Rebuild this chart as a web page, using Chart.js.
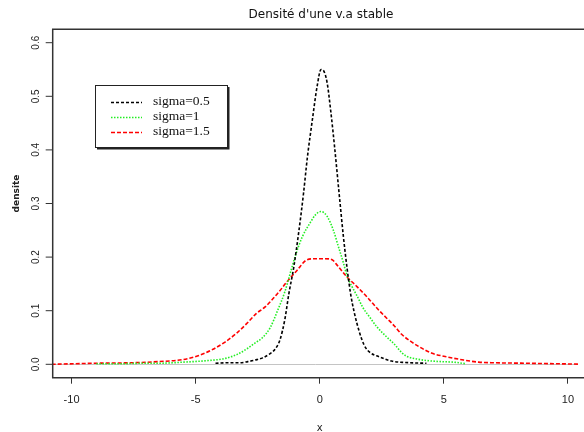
<!DOCTYPE html>
<html>
<head>
<meta charset="utf-8">
<script src="https://cdn.jsdelivr.net/npm/chart.js@4/dist/chart.umd.min.js"></script>
<style>
  html, body { margin: 0; padding: 0; background: #ffffff; }
  #wrap { width: 584px; height: 432px; }
</style>
</head>
<body>
<div id="wrap"><canvas id="myChart" width="584" height="432"></canvas></div>
<script>
//data
var title = "Densité d'une v.a stable"
var xLabel = "x"
var yLabel = "densite"
var seriesNames = ["sigma=0.5", "sigma=1", "sigma=1.5"]
var xTicks = [-10, -5, 0, 5, 10]
var yTicks = [0.0, 0.1, 0.2, 0.3, 0.4, 0.5, 0.6]

// sigma=0.5 (black)
var x05 = [-4.2, -3.6, -3.2, -2.9, -2.6, -2.3, -2.0, -1.8, -1.6, -1.4, -1.25, -1.05, -0.85, -0.65, -0.5, -0.3, -0.1, 0.05, 0.15, 0.3, 0.45, 0.6, 0.8, 0.95, 1.1, 1.25, 1.4, 1.6, 1.8, 2.0, 2.4, 2.9, 3.6, 4.3]
var y05 = [0.002, 0.003, 0.003, 0.005, 0.008, 0.012, 0.02, 0.028, 0.046, 0.085, 0.13, 0.18, 0.245, 0.32, 0.385, 0.455, 0.52, 0.55, 0.548, 0.525, 0.47, 0.405, 0.31, 0.24, 0.18, 0.13, 0.095, 0.06, 0.035, 0.023, 0.014, 0.006, 0.003, 0.002]

// sigma=1 (green)
var x1 = [-9.0, -8.2, -7.0, -6.5, -5.5, -4.5, -3.8, -3.3, -2.9, -2.6, -2.3, -2.0, -1.7, -1.4, -1.15, -0.95, -0.7, -0.4, -0.15, 0.05, 0.3, 0.55, 0.75, 0.95, 1.1, 1.3, 1.5, 1.75, 2.0, 2.3, 2.7, 3.0, 3.3, 3.5, 3.9, 4.3, 4.9, 5.4, 5.9]
var y1 = [0.001, 0.001, 0.002, 0.002, 0.004, 0.007, 0.011, 0.019, 0.03, 0.04, 0.05, 0.068, 0.1, 0.136, 0.176, 0.207, 0.238, 0.263, 0.28, 0.285, 0.276, 0.25, 0.22, 0.19, 0.165, 0.145, 0.128, 0.105, 0.089, 0.07, 0.051, 0.038, 0.022, 0.015, 0.01, 0.007, 0.005, 0.004, 0.001]

// sigma=1.5 (red)
var x15 = [-10.8, -9.0, -7.5, -6.5, -5.5, -4.9, -4.3, -3.8, -3.3, -2.9, -2.55, -2.2, -1.7, -1.3, -0.9, -0.55, -0.2, 0.2, 0.5, 0.7, 1.1, 1.5, 1.9, 2.4, 2.7, 3.0, 3.3, 3.6, 4.0, 4.5, 5.0, 5.8, 6.4, 6.9, 8.3, 9.6, 10.8]
var y15 = [0.0, 0.002, 0.003, 0.005, 0.009, 0.016, 0.028, 0.042, 0.06, 0.078, 0.095, 0.107, 0.132, 0.155, 0.176, 0.194, 0.197, 0.197, 0.195, 0.185, 0.163, 0.145, 0.126, 0.1, 0.086, 0.072, 0.056, 0.045, 0.033, 0.021, 0.015, 0.008, 0.004, 0.003, 0.002, 0.001, 0.0]

function pts(xs, ys) { //build {x,y} points
    let out = []
    for (var i = 0; i < xs.length; i++) out.push({x: xs[i], y: ys[i]})
    return out
}

var frameColor = '#333333'

//draws the R-like frame, y ticks, zero line, title and legend box
var rStyle = {
    id: 'rStyle',
    beforeDatasetsDraw(chart) {
        let c = chart.ctx, a = chart.chartArea, ys = chart.scales.y
        let y0 = ys.getPixelForValue(0)
        c.save()
        c.strokeStyle = '#c4c4c4'
        c.lineWidth = 1
        c.beginPath()
        c.moveTo(a.left, Math.round(y0) + 0.5)
        c.lineTo(a.right, Math.round(y0) + 0.5)
        c.stroke()
        c.restore()
    },
    afterDraw(chart) {
        let c = chart.ctx, a = chart.chartArea, xs = chart.scales.x, ys = chart.scales.y
        c.save()
        //frame (right side is cut off in the picture)
        c.strokeStyle = frameColor
        c.lineWidth = 1.5
        c.beginPath()
        c.moveTo(chart.width, a.top)
        c.lineTo(a.left, a.top)
        c.lineTo(a.left, a.bottom)
        c.lineTo(chart.width, a.bottom)
        c.stroke()

        //y ticks + rotated labels
        c.lineWidth = 1
        c.fillStyle = '#222'
        c.font = '10px "Liberation Sans", Arial, sans-serif'
        c.textAlign = 'center'
        c.textBaseline = 'middle'
        yTicks.forEach(function (v) {
            let py = ys.getPixelForValue(v)
            c.beginPath()
            c.moveTo(a.left - 7, py)
            c.lineTo(a.left, py)
            c.stroke()
            c.save()
            c.translate(36, py)
            c.rotate(-Math.PI / 2)
            c.fillText(v.toFixed(1), 0, 0)
            c.restore()
        })

        //axis titles
        c.font = 'bold 9px "DejaVu Sans", sans-serif'
        c.save()
        c.translate(17, ys.getPixelForValue(0.3) - 10)
        c.rotate(-Math.PI / 2)
        c.fillText(yLabel, 0, 0)
        c.restore()
        c.font = '10px "DejaVu Sans", sans-serif'
        c.fillText(xLabel, xs.getPixelForValue(0), 428)

        //main title
        c.font = '12px "DejaVu Sans", sans-serif'
        c.fillStyle = '#111'
        c.fillText(title, 321, 15)

        //legend box
        let bx = 95, by = 85, bw = 132, bh = 62
        c.fillStyle = '#ffffff'
        c.fillRect(bx, by, bw, bh)
        c.strokeStyle = '#222'
        c.lineWidth = 1
        c.strokeRect(bx + 0.5, by + 0.5, bw, bh)
        c.lineWidth = 2
        c.beginPath()
        c.moveTo(bx + bw + 1.5, by + 2)
        c.lineTo(bx + bw + 1.5, by + bh + 1.5)
        c.lineTo(bx + 2, by + bh + 1.5)
        c.stroke()
        c.font = '13.5px "Liberation Serif", "Times New Roman", serif'
        c.textAlign = 'left'
        chart.data.datasets.forEach(function (ds, i) {
            let ly = 102.5 + i * 15
            c.strokeStyle = ds.borderColor
            c.lineWidth = 1.5
            c.setLineDash(ds.borderDash)
            c.beginPath()
            c.moveTo(111, ly)
            c.lineTo(142, ly)
            c.stroke()
            c.setLineDash([])
            c.fillStyle = '#111'
            c.fillText(ds.label, 153, ly - 1)
        })
        c.restore()
    }
}

var ctx = document.getElementById('myChart')
var myChart = new Chart(ctx, {
    type: 'line',
    data: {
        datasets: [{
            label: seriesNames[0],
            data: pts(x05, y05),
            borderColor: '#000000',
            borderDash: [3, 2],
            borderWidth: 1.6
        }, {
            label: seriesNames[1],
            data: pts(x1, y1),
            borderColor: '#22ee22',
            borderDash: [1.5, 1.5],
            borderWidth: 1.6
        }, {
            label: seriesNames[2],
            data: pts(x15, y15),
            borderColor: '#ff0000',
            borderDash: [4, 2],
            borderWidth: 1.6
        }]
    },
    options: {
        responsive: false,
        animation: false,
        layout: { padding: { left: 52.7, top: 29.3, right: 0, bottom: 0 } },
        elements: {
            point: { radius: 0 },
            line: { cubicInterpolationMode: 'monotone', fill: false }
        },
        plugins: {
            legend: { display: false },
            title: { display: false },
            tooltip: { enabled: false }
        },
        scales: {
            x: {
                type: 'linear',
                min: -10.76,
                max: 10.41,
                afterFit: function (s) { s.height = 54.3 },
                afterBuildTicks: function (s) { s.ticks = xTicks.map(v => ({value: v})) },
                border: { display: false },
                grid: { drawOnChartArea: false, tickLength: 6, color: frameColor, lineWidth: 1 },
                ticks: {
                    padding: 10,
                    color: '#222',
                    font: { family: '"Liberation Sans", Arial, sans-serif', size: 11 },
                    maxRotation: 0
                }
            },
            y: {
                display: false,
                min: -0.025,
                max: 0.625
            }
        }
    },
    plugins: [rStyle]
})
</script>
</body>
</html>
